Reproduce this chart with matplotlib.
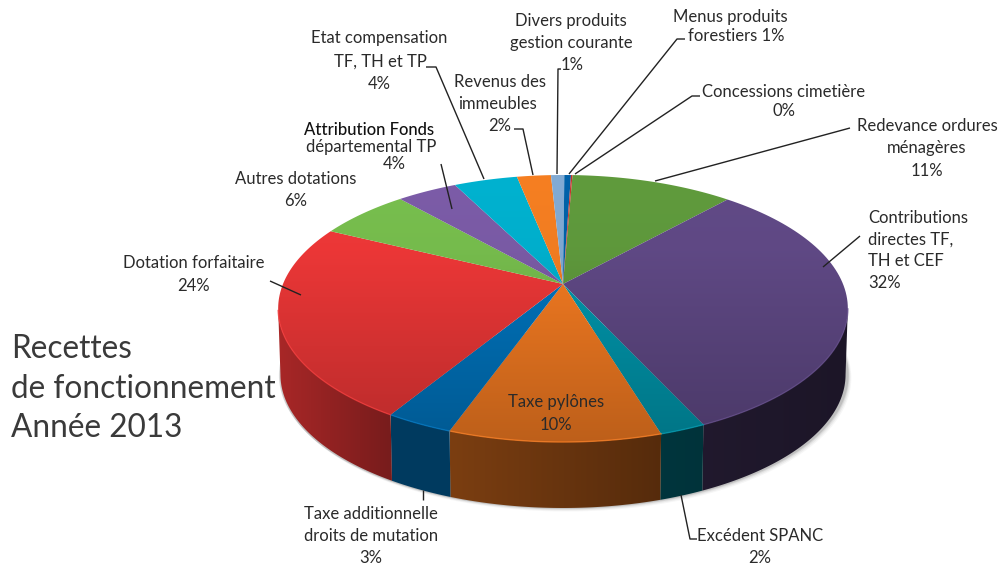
import numpy as np
import matplotlib
matplotlib.use('Agg')
import matplotlib.pyplot as plt
from matplotlib.colors import to_rgb
from matplotlib.patches import Polygon

plt.rcParams['font.family'] = ['Lato', 'DejaVu Sans']

names = ['Redevance ordures ménagères', 'Contributions directes', 'Excédent SPANC', 'Taxe pylônes',
         'Taxe additionnelle', 'Dotation forfaitaire', 'Autres dotations', 'Attribution Fonds',
         'Etat compensation', 'Revenus des immeubles', 'Divers produits', 'Menus produits', 'Concessions cimetière']
values = [11.0, 31.5, 2.2, 10.1, 3.25, 23.6, 6.2, 4.1, 4.3, 2.3, 0.9, 0.45, 0.1]
colors = ['#609B3D', '#614A87', '#0098AE', '#F67C22', '#0075BF', '#F03838', '#78BF4E', '#7C5CA8',
          '#00B2D0', '#F67F22', '#82ABD4', '#0062AA', '#C8342C']

start_angle = 2.3
apex = (563, 284)
a, b, k = 280, 129, 0.1835
depth = 66

# text, x, y, ha
labels = [
    ('Redevance ordures', 927, 126), ('ménagères', 927, 148), ('11%', 927, 171),
    ('Contributions', 868, 218, 'left'), ('directes TF,', 868, 240, 'left'), ('TH et CEF', 868, 261, 'left'),
    ('32%', 868, 283, 'left'),
    ('Excédent SPANC', 760, 536), ('2%', 760, 558),
    ('Taxe pylônes', 556, 402), ('10%', 556, 425),
    ('Taxe additionnelle', 371, 514), ('droits de mutation', 371, 536), ('3%', 371, 558),
    ('Dotation forfaitaire', 194, 263), ('24%', 194, 286),
    ('Autres dotations', 296, 179), ('6%', 296, 201),
    ('Attribution Fonds', 369, 130), ('départemental TP', 371, 147), ('4%', 394, 164),
    ('Etat compensation', 379, 38), ('TF, TH et TP', 380, 62), ('4%', 379, 84),
    ('Revenus des', 500, 82), ('immeubles', 497, 104), ('2%', 500, 126),
    ('Divers produits', 571, 21), ('gestion courante', 571, 43), ('1%', 572, 65),
    ('Menus produits', 730, 17), ('forestiers 1%', 736, 36),
    ('Concessions cimetière', 784, 92), ('0%', 784, 111),
]

leaders = [
    ([655, 850], [181, 128]),
    ([823, 860], [267, 236]),
    ([681, 690, 697], [495, 539, 539]),
    ([423, 423], [490, 500]),
    ([301, 270], [295, 281]),
    ([452, 441], [209, 164]),
    ([484, 436, 426], [179, 67, 67]),
    ([533, 523, 514], [175, 129, 129]),
    ([557, 558, 561], [174, 69, 69]),
    ([569, 677, 685], [174, 39, 39]),
    ([575, 692, 700], [174, 96, 96]),
]

title_lines = ['Recettes', 'de fonctionnement', 'Année 2013']


def rim(theta_deg, dy=0.0, scale=1.0):
    # perspective view of the unit circle, theta clockwise from the back of the pie
    t = np.radians(theta_deg)
    d = 1 + k * np.cos(t)
    return apex[0] + scale * a * np.sin(t) / d, apex[1] - b * np.cos(t) / d + dy


def top_factor(y):
    return np.interp(y, [175, 250, 442], [1.0, 0.98, 0.77])


def side_factor(x):
    return np.interp(x, [279, 390, 450, 660, 850], [0.70, 0.50, 0.50, 0.35, 0.29])


def grad_fill(ax, xs, ys, color, vertical):
    rgb = np.array(to_rgb(color))
    x0, x1, y0, y1 = min(xs), max(xs), min(ys), max(ys)
    if vertical:
        f = top_factor(np.linspace(y0, y1, 64))[:, None]
    else:
        f = side_factor(np.linspace(x0, x1, 128))[None, :]
    img = f[..., None] * rgb
    im = ax.imshow(img, extent=(x0, x1, y1, y0), aspect='auto', interpolation='bilinear', zorder=3)
    im.set_clip_path(Polygon(np.column_stack([xs, ys]), transform=ax.transData))


fig = plt.figure(figsize=(9.99, 5.65), dpi=100)
ax = fig.add_axes([0, 0, 1, 1])

edges = start_angle + np.cumsum([0] + values) * 360 / sum(values)
left_tan = 360 - np.degrees(np.arccos(-k))
right_tan = np.degrees(np.arccos(-k))

# soft shadow under the side wall
th = np.linspace(right_tan - 30, left_tan + 10, 200)
for off, alpha in [(7, 0.05), (5, 0.08), (3, 0.12), (1.5, 0.18)]:
    sx, sy = rim(th, depth + off * 0.5, 1.0)
    ax.fill(sx + off * 0.5, sy, color='#555555', alpha=alpha, lw=0, zorder=2)

# side wall
for i, col in enumerate(colors):
    t0, t1 = max(edges[i], right_tan), min(edges[i + 1], left_tan)
    if t1 <= t0:
        continue
    th = np.linspace(t0, t1, 60)
    ux, uy = rim(th)
    lx, ly = rim(th[::-1], depth, 0.992)
    grad_fill(ax, np.r_[ux, lx], np.r_[uy, ly], col, False)

# top of the pie
for i, col in enumerate(colors):
    th = np.linspace(edges[i], edges[i + 1], 80)
    ux, uy = rim(th)
    grad_fill(ax, np.r_[apex[0], ux], np.r_[apex[1], uy], col, True)
    # light rim on the front edge
    vis = (th > right_tan) & (th < left_tan)
    if vis.any():
        ax.plot(ux[vis], uy[vis], color=col, lw=1, alpha=0.8, zorder=4)

for xs, ys in leaders:
    ax.plot(xs, ys, color='#222222', lw=1.0, zorder=5, solid_capstyle='butt')

for lab in labels:
    ha = lab[3] if len(lab) > 3 else 'center'
    bold = lab[0] == 'Attribution Fonds'
    ax.text(lab[1], lab[2], lab[0], ha=ha, va='center', fontsize=12, color='#111111' if bold else '#2a2a2a',
            fontweight='medium' if bold else 'normal', zorder=6)

for line, y in zip(title_lines, [349, 389, 428]):
    ax.text(11, y, line, ha='left', va='center', fontsize=22.7, color='#3a3a3a', zorder=6)

ax.set_xlim(0, 999)
ax.set_ylim(565, 0)
ax.axis('off')

fig.savefig('out.png', dpi=100)
